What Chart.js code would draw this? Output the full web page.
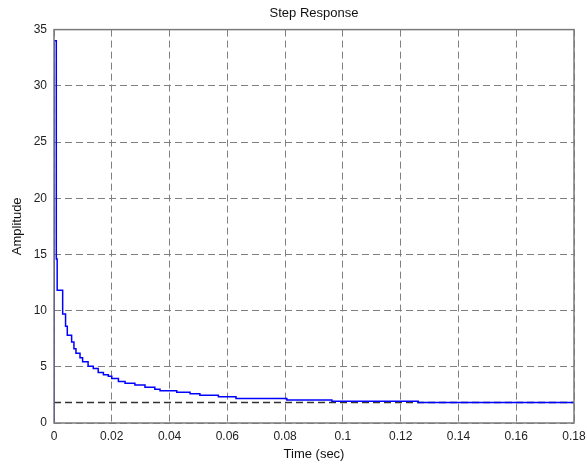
<!DOCTYPE html>
<html>
<head>
<meta charset="utf-8">
<script src="https://cdn.jsdelivr.net/npm/chart.js@4/dist/chart.umd.min.js"></script>
<style>
    html, body { margin: 0; padding: 0; background: #fff; }
    #wrap { width: 587px; height: 465px; }
</style>
</head>
<body>
<div id="wrap"><canvas id="stepChart" width="587" height="465"></canvas></div>
<script>
// step response samples (zero-order hold)
const timeSec = [0, 0, 0.0008, 0.0011, 0.003, 0.004, 0.0046, 0.0061, 0.0069, 0.0076, 0.009,
    0.0099, 0.0118, 0.0136, 0.0153, 0.0171, 0.0188, 0.02, 0.0223, 0.0246, 0.028, 0.0315,
    0.0349, 0.0367, 0.0425, 0.0471, 0.0505, 0.0569, 0.063, 0.0806, 0.0962, 0.1261, 0.18];
const amplitude = [0, 34, 14.6, 11.8, 9.7, 8.6, 7.8, 7.2, 6.6, 6.2, 5.8,
    5.45, 5.05, 4.85, 4.5, 4.3, 4.15, 3.97, 3.7, 3.53, 3.37, 3.18,
    3.0, 2.88, 2.73, 2.6, 2.46, 2.34, 2.19, 2.04, 1.93, 1.83, 1.83];
const steadyState = 1.83;
const xRange = [0, 0.18];
const yRange = [0, 35];
const xStep = 0.02;
const yStep = 5;

const FONT = '"Liberation Sans", Arial, sans-serif';

const responsePoints = timeSec.map((t, i) => ({ x: t, y: amplitude[i] }));
const steadyPoints = xRange.map((t) => ({ x: t, y: steadyState }));

// grey frame round the axes like matlab
const boxPlugin = {
    id: 'axesBox',
    afterDraw(chart) {
        const a = chart.chartArea;
        const ctx = chart.ctx;
        ctx.save();
        ctx.strokeStyle = '#7a7a7a';
        ctx.lineWidth = 1.5;
        ctx.setLineDash([]);
        ctx.strokeRect(a.left, a.top, a.right - a.left, a.bottom - a.top);
        ctx.restore();
    }
};

new Chart(document.getElementById('stepChart'), {
    type: 'line',
    data: {
        datasets: [{
            label: 'Step',
            data: responsePoints,
            stepped: 'before',
            borderColor: '#0000ff',
            borderWidth: 1.5,
            pointRadius: 0,
            fill: false,
            order: 1
        }, {
            label: 'Steady state',
            data: steadyPoints,
            borderColor: '#333333',
            borderWidth: 1.5,
            borderDash: [7, 4],
            pointRadius: 0,
            fill: false,
            order: 2
        }]
    },
    options: {
        responsive: false,
        animation: false,
        layout: { padding: { left: 0, right: 13, top: 0, bottom: 0 } },
        plugins: {
            legend: { display: false },
            tooltip: { enabled: false },
            title: {
                display: true,
                text: 'Step Response',
                fullSize: false,
                color: '#111',
                font: { family: FONT, size: 13, weight: 'normal' },
                padding: { top: 6, bottom: 8 }
            }
        },
        scales: {
            x: {
                type: 'linear',
                min: xRange[0],
                max: xRange[1],
                afterFit: (s) => {
                    s.height = 42;
                    s.paddingLeft = 0;
                    s.paddingRight = 0;
                },
                ticks: {
                    stepSize: xStep,
                    color: '#222',
                    padding: 6,
                    maxRotation: 0,
                    font: { family: FONT, size: 12 },
                    callback: (v) => String(Number(v.toFixed(2)))
                },
                grid: { color: '#808080', lineWidth: 1, drawTicks: false },
                border: { display: false, dash: [7, 4] },
                title: {
                    display: true,
                    text: 'Time (sec)',
                    color: '#111',
                    font: { family: FONT, size: 13 },
                    padding: { top: 0, bottom: 3 }
                }
            },
            y: {
                min: yRange[0],
                max: yRange[1],
                afterFit: (s) => { s.width = 54; },
                ticks: {
                    stepSize: yStep,
                    color: '#222',
                    padding: 7,
                    font: { family: FONT, size: 12 }
                },
                grid: { color: '#808080', lineWidth: 1, drawTicks: false },
                border: { display: false, dash: [7, 4] },
                title: {
                    display: true,
                    text: 'Amplitude',
                    color: '#111',
                    font: { family: FONT, size: 13 },
                    padding: { top: 10, bottom: 0 }
                }
            }
        }
    },
    plugins: [boxPlugin]
});
</script>
</body>
</html>
